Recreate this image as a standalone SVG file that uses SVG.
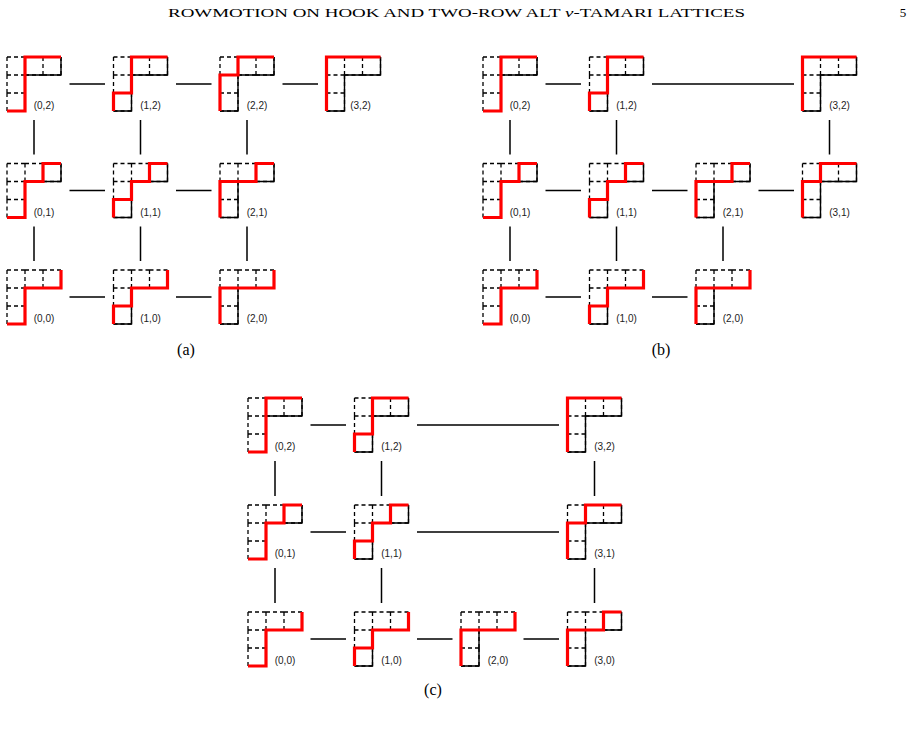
<svg xmlns="http://www.w3.org/2000/svg" xmlns:xlink="http://www.w3.org/1999/xlink" width="912" height="736" viewBox="0 0 912 736">
<style>
.bg{fill:#fff}
.grid{fill:none;stroke:#000;stroke-width:1.3;stroke-dasharray:4 3}
.bound{fill:none;stroke:#000;stroke-width:1.4;stroke-linejoin:miter}
.red{fill:none;stroke:#ff0000;stroke-width:3.2;stroke-linejoin:miter;stroke-linecap:butt}
.lbl{font-family:"Liberation Sans",Arial,sans-serif;font-size:10px;fill:#222;text-anchor:middle}
.cap{font-family:"Liberation Serif","Times New Roman",serif;font-size:16px;fill:#000;text-anchor:middle}
.title{font-family:"Liberation Serif","Times New Roman",serif;font-size:13px;fill:#000}
.edge{stroke:#000;stroke-width:1.5;fill:none}
</style>
<defs>
<path id="grid" class="grid" d="M0,0h18M18,0h18M36,0h18M0,18h18M18,18h18M36,18h18M0,36h18M0,54h18M0,0v18M0,18v18M0,36v18M18,0v18M18,18v18M18,36v18M36,0v18M54,0v18"/>
<path id="bound" class="bound" d="M0,54H18V18H54V0"/>
</defs>
<rect class="bg" x="0" y="0" width="912" height="736"/>
<text class="title" x="168" y="17" textLength="577" lengthAdjust="spacingAndGlyphs">ROWMOTION ON HOOK AND TWO-ROW ALT <tspan font-style="italic">ν</tspan>-TAMARI LATTICES</text>
<text class="title" x="903" y="17" text-anchor="middle">5</text>

<g id="edges">
<!-- panel a -->
<path class="edge" d="M69.5,84H105M176,84H211.5M282.5,84H318M69.5,190.5H105M176,190.5H211.5M69.5,297H105M176,297H211.5M34,120V154.5M34,226.5V261M140.5,120V154.5M140.5,226.5V261M247,120V154.5M247,226.5V261"/>
<!-- panel b -->
<path class="edge" d="M545.5,84H581M652,84H794M545.5,190.5H581M652,190.5H687.5M758.5,190.5H794M545.5,297H581M652,297H687.5M510,120V154.5M510,226.5V261M616.5,120V154.5M616.5,226.5V261M723,226.5V261M829.5,120V154.5"/>
<!-- panel c -->
<path class="edge" d="M310.5,425H346M417,425H559M310.5,532H346M417,532H559M310.5,639H346M417,639H452.5M523.5,639H559M275,461V496M275,568V603M381.5,461V496M381.5,568V603M594.5,461V496M594.5,568V603"/>
</g>

<!-- panel a nodes -->
<g id="a02" transform="translate(7,57)"><use xlink:href="#grid"/><use xlink:href="#bound"/><path class="red" d="M0,54H18V0H54"/><text class="lbl" x="37" y="52">(0,2)</text></g>
<g id="a12" transform="translate(113.5,57)"><use xlink:href="#grid"/><use xlink:href="#bound"/><path class="red" d="M0,54V36H18V0H54"/><text class="lbl" x="37" y="52">(1,2)</text></g>
<g id="a22" transform="translate(220,57)"><use xlink:href="#grid"/><use xlink:href="#bound"/><path class="red" d="M0,54V18H18V0H54"/><text class="lbl" x="37" y="52">(2,2)</text></g>
<g id="a32" transform="translate(326.5,57)"><use xlink:href="#grid"/><use xlink:href="#bound"/><path class="red" d="M0,54V0H54"/><text class="lbl" x="34" y="52">(3,2)</text></g>
<g id="a01" transform="translate(7,163.5)"><use xlink:href="#grid"/><use xlink:href="#bound"/><path class="red" d="M0,54H18V18H36V0H54"/><text class="lbl" x="37" y="52">(0,1)</text></g>
<g id="a11" transform="translate(113.5,163.5)"><use xlink:href="#grid"/><use xlink:href="#bound"/><path class="red" d="M0,54V36H18V18H36V0H54"/><text class="lbl" x="37" y="52">(1,1)</text></g>
<g id="a21" transform="translate(220,163.5)"><use xlink:href="#grid"/><use xlink:href="#bound"/><path class="red" d="M0,54V18H36V0H54"/><text class="lbl" x="37" y="52">(2,1)</text></g>
<g id="a00" transform="translate(7,270)"><use xlink:href="#grid"/><use xlink:href="#bound"/><path class="red" d="M0,54H18V18H54V0"/><text class="lbl" x="37" y="52">(0,0)</text></g>
<g id="a10" transform="translate(113.5,270)"><use xlink:href="#grid"/><use xlink:href="#bound"/><path class="red" d="M0,54V36H18V18H54V0"/><text class="lbl" x="37" y="52">(1,0)</text></g>
<g id="a20" transform="translate(220,270)"><use xlink:href="#grid"/><use xlink:href="#bound"/><path class="red" d="M0,54V18H54V0"/><text class="lbl" x="37" y="52">(2,0)</text></g>
<text class="cap" x="186" y="355">(a)</text>

<!-- panel b nodes -->
<g id="b02" transform="translate(483,57)"><use xlink:href="#grid"/><use xlink:href="#bound"/><path class="red" d="M0,54H18V0H54"/><text class="lbl" x="37" y="52">(0,2)</text></g>
<g id="b12" transform="translate(589.5,57)"><use xlink:href="#grid"/><use xlink:href="#bound"/><path class="red" d="M0,54V36H18V0H54"/><text class="lbl" x="37" y="52">(1,2)</text></g>
<g id="b32" transform="translate(802.5,57)"><use xlink:href="#grid"/><use xlink:href="#bound"/><path class="red" d="M0,54V0H54"/><text class="lbl" x="37" y="52">(3,2)</text></g>
<g id="b01" transform="translate(483,163.5)"><use xlink:href="#grid"/><use xlink:href="#bound"/><path class="red" d="M0,54H18V18H36V0H54"/><text class="lbl" x="37" y="52">(0,1)</text></g>
<g id="b11" transform="translate(589.5,163.5)"><use xlink:href="#grid"/><use xlink:href="#bound"/><path class="red" d="M0,54V36H18V18H36V0H54"/><text class="lbl" x="37" y="52">(1,1)</text></g>
<g id="b21" transform="translate(696,163.5)"><use xlink:href="#grid"/><use xlink:href="#bound"/><path class="red" d="M0,54V18H36V0H54"/><text class="lbl" x="37" y="52">(2,1)</text></g>
<g id="b31" transform="translate(802.5,163.5)"><use xlink:href="#grid"/><use xlink:href="#bound"/><path class="red" d="M0,54V18H18V0H54"/><text class="lbl" x="37" y="52">(3,1)</text></g>
<g id="b00" transform="translate(483,270)"><use xlink:href="#grid"/><use xlink:href="#bound"/><path class="red" d="M0,54H18V18H54V0"/><text class="lbl" x="37" y="52">(0,0)</text></g>
<g id="b10" transform="translate(589.5,270)"><use xlink:href="#grid"/><use xlink:href="#bound"/><path class="red" d="M0,54V36H18V18H54V0"/><text class="lbl" x="37" y="52">(1,0)</text></g>
<g id="b20" transform="translate(696,270)"><use xlink:href="#grid"/><use xlink:href="#bound"/><path class="red" d="M0,54V18H54V0"/><text class="lbl" x="37" y="52">(2,0)</text></g>
<text class="cap" x="661" y="355">(b)</text>

<!-- panel c nodes -->
<g id="c02" transform="translate(248,398)"><use xlink:href="#grid"/><use xlink:href="#bound"/><path class="red" d="M0,54H18V0H54"/><text class="lbl" x="37" y="52">(0,2)</text></g>
<g id="c12" transform="translate(354.5,398)"><use xlink:href="#grid"/><use xlink:href="#bound"/><path class="red" d="M0,54V36H18V0H54"/><text class="lbl" x="37" y="52">(1,2)</text></g>
<g id="c32" transform="translate(567.5,398)"><use xlink:href="#grid"/><use xlink:href="#bound"/><path class="red" d="M0,54V0H54"/><text class="lbl" x="37" y="52">(3,2)</text></g>
<g id="c01" transform="translate(248,505)"><use xlink:href="#grid"/><use xlink:href="#bound"/><path class="red" d="M0,54H18V18H36V0H54"/><text class="lbl" x="37" y="52">(0,1)</text></g>
<g id="c11" transform="translate(354.5,505)"><use xlink:href="#grid"/><use xlink:href="#bound"/><path class="red" d="M0,54V36H18V18H36V0H54"/><text class="lbl" x="37" y="52">(1,1)</text></g>
<g id="c31" transform="translate(567.5,505)"><use xlink:href="#grid"/><use xlink:href="#bound"/><path class="red" d="M0,54V18H18V0H54"/><text class="lbl" x="37" y="52">(3,1)</text></g>
<g id="c00" transform="translate(248,612)"><use xlink:href="#grid"/><use xlink:href="#bound"/><path class="red" d="M0,54H18V18H54V0"/><text class="lbl" x="37" y="52">(0,0)</text></g>
<g id="c10" transform="translate(354.5,612)"><use xlink:href="#grid"/><use xlink:href="#bound"/><path class="red" d="M0,54V36H18V18H54V0"/><text class="lbl" x="37" y="52">(1,0)</text></g>
<g id="c20" transform="translate(461,612)"><use xlink:href="#grid"/><use xlink:href="#bound"/><path class="red" d="M0,54V18H54V0"/><text class="lbl" x="37" y="52">(2,0)</text></g>
<g id="c30" transform="translate(567.5,612)"><use xlink:href="#grid"/><use xlink:href="#bound"/><path class="red" d="M0,54V18H36V0H54"/><text class="lbl" x="37" y="52">(3,0)</text></g>
<text class="cap" x="433" y="695">(c)</text>
</svg>
